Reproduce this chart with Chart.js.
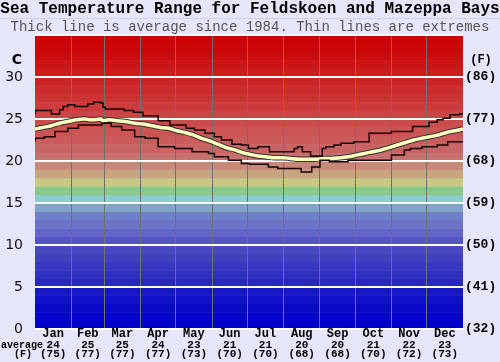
<!DOCTYPE html>
<html>
<head>
<meta charset="utf-8">
<script src="https://cdn.jsdelivr.net/npm/chart.js@4.4.1/dist/chart.umd.min.js"></script>
<style>
  body { margin: 0; background: #e6e6fa; }
  #wrap { position: relative; width: 500px; height: 362px; overflow: hidden; }
  #title { position: absolute; top: 1px; left: 0; width: 500px; text-align: center;
    font: bold 16px "Liberation Mono", monospace; line-height: 17px; color: #000; white-space: nowrap; }
  #sub { position: absolute; top: 18px; left: 0; width: 500px; text-align: center;
    font: 14px "Liberation Mono", monospace; line-height: 16px; color: #555; white-space: nowrap;
    border-top: 1px solid #d0d0e4; }
  canvas { position: absolute; top: 0; left: 0; }
</style>
</head>
<body>
<div id="wrap">
  <canvas id="seaChart" width="500" height="362"></canvas>
  <div id="title">Sea Temperature Range for Feldskoen and Mazeppa Bays</div>
  <div id="sub">Thick line is average since 1984. Thin lines are extremes</div>
</div>
<script>
// month info
const months = ["Jan", "Feb", "Mar", "Apr", "May", "Jun", "Jul", "Aug", "Sep", "Oct", "Nov", "Dec"];
const monthStarts = [0, 31, 59, 90, 120, 151, 181, 212, 243, 273, 304, 334, 365];
const monthAvgC = ["24", "25", "25", "24", "23", "21", "21", "20", "20", "21", "22", "23"];
const monthAvgF = ["(75)", "(77)", "(77)", "(77)", "(73)", "(70)", "(70)", "(68)", "(68)", "(70)", "(72)", "(73)"];

// right axis labels (F) for 0,5,...,30 C
const fahrenheitLabels = ["(32)", "(41)", "(50)", "(59)", "(68)", "(77)", "(86)"];

// average line (day of year, deg C)
const avgDays = [0, 7, 14, 21, 28, 35, 42, 49, 56, 58, 63, 70, 77, 85, 92, 100, 107, 114, 121, 128,
  135, 142, 149, 156, 163, 171, 177, 183, 190, 197, 204, 211, 218, 225, 232, 239, 246, 253, 260, 267,
  274, 281, 288, 295, 302, 309, 316, 323, 330, 337, 344, 351, 358, 365];
const avgTemps = [23.8, 24.0, 24.2, 24.5, 24.7, 24.9, 25.0, 24.9, 25.0, 24.8, 24.9, 24.8, 24.7, 24.5, 24.4, 24.2, 24.0, 23.9, 23.6, 23.4,
  23.1, 22.7, 22.4, 22.0, 21.6, 21.3, 21.0, 20.8, 20.6, 20.5, 20.4, 20.4, 20.3, 20.2, 20.2, 20.2, 20.3, 20.3, 20.4, 20.5,
  20.7, 20.9, 21.1, 21.3, 21.6, 21.9, 22.2, 22.5, 22.7, 22.9, 23.1, 23.4, 23.6, 23.8];

// highest recorded
const maxDays = [0, 14, 21, 24, 28, 34, 45, 50, 56, 58, 60, 76, 84, 92, 105, 115, 129, 136, 145, 153, 159,
  168, 176, 182, 190, 200, 213, 221, 224, 228, 235, 245, 248, 255, 261, 272, 285, 304, 322, 336, 343,
  348, 354, 362, 365];
const maxTemps = [25.5, 26.0, 25.6, 26.1, 26.5, 26.7, 26.5, 26.8, 27.0, 26.9, 26.4, 26.2, 26.0, 25.8, 25.4, 24.8, 24.3, 23.9, 23.7, 23.3, 22.9,
  22.5, 22.0, 21.9, 21.5, 21.7, 21.1, 21.1, 21.5, 21.7, 21.1, 20.6, 21.5, 21.7, 21.9, 22.1, 22.3, 23.3, 23.5, 24.1, 24.6,
  24.9, 25.1, 25.5, 25.6];

// lowest recorded
const minDays = [0, 8, 17, 28, 37, 57, 65, 74, 85, 94, 105, 119, 134, 148, 153, 165, 176, 183, 199, 207,
  227, 229, 236, 243, 251, 256, 267, 304, 315, 320, 330, 343, 352, 365];
const minTemps = [22.3, 22.7, 22.9, 23.5, 23.9, 24.3, 24.5, 24.1, 23.7, 22.9, 22.7, 21.7, 21.5, 21.1, 20.9, 20.5, 20.1, 19.7, 19.6, 19.3,
  19.1, 18.7, 18.7, 19.3, 20.1, 19.9, 19.9, 20.1, 20.7, 21.3, 21.5, 21.7, 21.9, 22.3];

// one colour per 1 degree band, from 0 upwards
const bandColors = [
  "#0000cc", "#0404cc", "#0808c8", "#1010c8", "#1818c4",
  "#2828c0", "#3030c0", "#3838c0", "#4040c0", "#4848c0",
  "#5454c4", "#6464c8", "#6c74c8", "#7080c8", "#80a4c8",
  "#88cccc", "#88c888", "#c8c884", "#c8a480", "#c88878",
  "#c87070", "#c86464", "#cc5c5c", "#cc5454", "#cc4c4c",
  "#cc4444", "#cc3c3c", "#cc3434", "#cc2c2c", "#cc2424",
  "#cc1c1c", "#cc1414", "#cc0c0c", "#cc0606", "#cc0000"
];

const toPoints = (days, temps) => days.map((d, i) => ({ x: d, y: temps[i] }));

const bandsPlugin = {
  id: "bands",
  beforeDraw(chart) {
    const { ctx, chartArea, scales } = chart;
    ctx.save();
    bandColors.forEach((c, i) => {
      const top = scales.y.getPixelForValue(i + 1);
      const bottom = scales.y.getPixelForValue(i);
      ctx.fillStyle = c;
      ctx.fillRect(chartArea.left, top, chartArea.right - chartArea.left, bottom - top + 0.5);
    });
    ctx.restore();
  }
};

const labelsPlugin = {
  id: "monthLabels",
  afterDraw(chart) {
    const { ctx, scales, chartArea } = chart;
    ctx.save();
    ctx.fillStyle = "#000";
    ctx.textAlign = "center";
    ctx.textBaseline = "middle";
    months.forEach((m, i) => {
      const x = scales.x.getPixelForValue((monthStarts[i] + monthStarts[i + 1]) / 2);
      ctx.font = 'bold 12px "Liberation Mono", monospace';
      ctx.fillText(m, x, chartArea.bottom + 5);
      ctx.font = 'bold 11px "Liberation Mono", monospace';
      ctx.fillText(monthAvgC[i], x, chartArea.bottom + 16);
      ctx.fillText(monthAvgF[i], x, chartArea.bottom + 25);
    });
    ctx.font = 'bold 10px "Liberation Mono", monospace';
    ctx.fillText("average", 22, chartArea.bottom + 16);
    ctx.fillText("(F)", 23, chartArea.bottom + 25);
    // unit labels
    ctx.font = 'bold 14px "DejaVu Sans", sans-serif';
    ctx.fillText("C", 17, scales.y.getPixelForValue(32));
    ctx.font = 'bold 12px "Liberation Mono", monospace';
    ctx.fillText("(F)", 481, scales.y.getPixelForValue(32));
    ctx.restore();
  }
};

new Chart(document.getElementById("seaChart"), {
  type: "line",
  data: {
    datasets: [
      {
        label: "Max",
        data: toPoints(maxDays, maxTemps),
        borderColor: "#1a0000",
        borderWidth: 1.5,
        stepped: "after",
        pointRadius: 0
      },
      {
        label: "Min",
        data: toPoints(minDays, minTemps),
        borderColor: "#1a0000",
        borderWidth: 1.5,
        stepped: "after",
        pointRadius: 0
      },
      {
        label: "Average",
        data: toPoints(avgDays, avgTemps),
        borderColor: "#ffffc0",
        borderWidth: 3.5,
        cubicInterpolationMode: "monotone",
        pointRadius: 0
      },
      {
        label: "Average outline",
        data: toPoints(avgDays, avgTemps),
        borderColor: "#333",
        borderWidth: 5.5,
        cubicInterpolationMode: "monotone",
        pointRadius: 0
      }
    ]
  },
  options: {
    responsive: false,
    animation: false,
    layout: { padding: { top: 35, left: 0, right: 0, bottom: 0 } },
    plugins: { legend: { display: false }, tooltip: { enabled: false } },
    scales: {
      x: {
        type: "linear",
        min: 0,
        max: 365,
        afterBuildTicks: (scale) => {
          scale.ticks = monthStarts.slice(1, 12).map(v => ({ value: v }));
        },
        afterFit: (scale) => { scale.height = 33; },
        ticks: { display: false },
        grid: { color: "#707070", lineWidth: 1, drawTicks: false },
        border: { display: false }
      },
      y: {
        min: 0,
        max: 35,
        afterFit: (scale) => { scale.width = 35; },
        ticks: {
          stepSize: 5,
          padding: 12,
          color: "#111",
          font: { family: "DejaVu Sans", size: 14 },
          callback: (v) => (v === 35 ? "" : v)
        },
        grid: { color: "#ffffff", lineWidth: 2, drawTicks: false },
        border: { display: false }
      },
      yF: {
        position: "right",
        min: 0,
        max: 35,
        afterFit: (scale) => { scale.width = 37; },
        ticks: {
          stepSize: 5,
          padding: 2,
          color: "#000",
          font: { family: "Liberation Mono", size: 13, weight: "bold" },
          callback: (v) => fahrenheitLabels[v / 5] || ""
        },
        grid: { display: false, drawTicks: false },
        border: { display: false }
      }
    }
  },
  plugins: [bandsPlugin, labelsPlugin]
});
</script>
</body>
</html>
